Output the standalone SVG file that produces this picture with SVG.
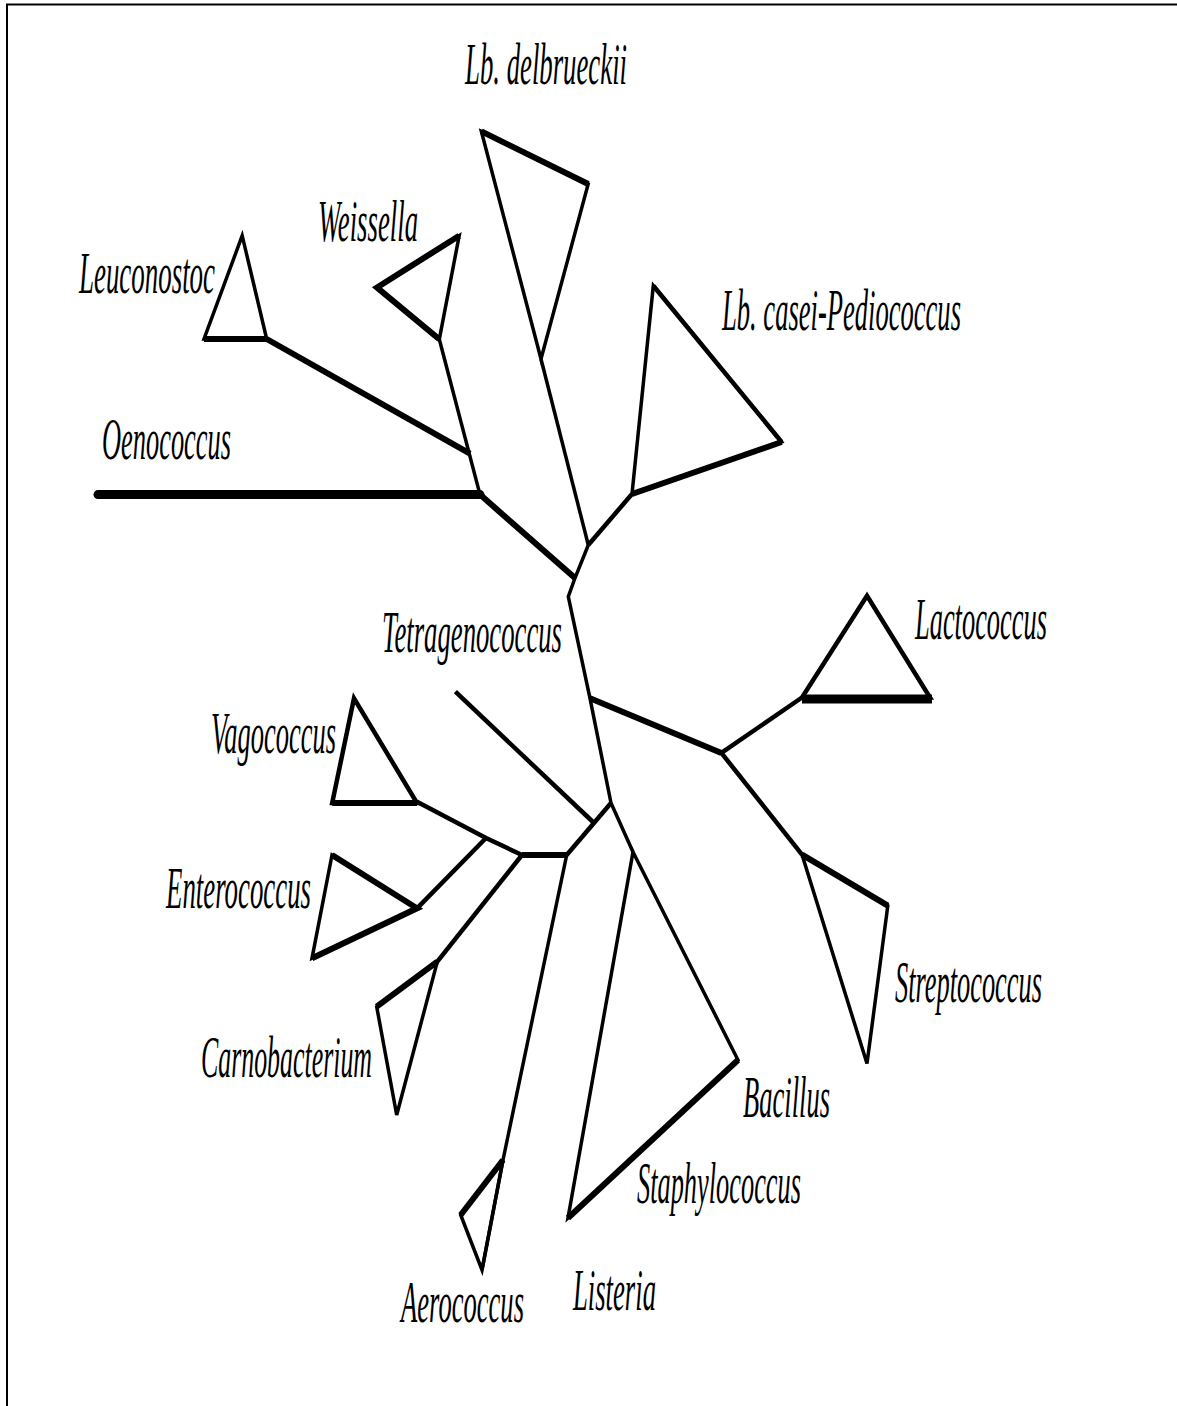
<svg xmlns="http://www.w3.org/2000/svg" width="1177" height="1406" viewBox="0 0 1177 1406">
<style>
.t{font-family:"Liberation Serif","Times New Roman",serif;font-style:italic;font-size:60px;fill:#000}
.thin{fill:none;stroke:#000;stroke-width:3.5;stroke-linejoin:miter}
.med{fill:none;stroke:#000;stroke-width:4.5;stroke-linejoin:miter}
.thick{fill:none;stroke:#000;stroke-width:6;stroke-linejoin:miter}
.xthick{fill:none;stroke:#000;stroke-width:9}
</style>
<rect width="1177" height="1406" fill="#fff"/>
<path d="M7,1406 V4.5 H1177" fill="none" stroke="#000" stroke-width="2"/>

<g id="connectors">
  <path class="thick" d="M480,494.6 L575,578"/>
  <path class="thin" d="M480,494.6 L439.3,339.3"/>
  <path class="thick" d="M470,453.6 L266.7,339"/>
  <path class="thin" d="M541,359 L588.3,545"/>
  <path class="med" d="M588.3,545 L632,494"/>
  <path class="thin" d="M588.3,545 L575,578 L568.3,596.7 L590,698.3 L611,803"/>
  <path class="thick" d="M590,698.3 L721.4,752.9"/>
  <path class="med" d="M721.4,752.9 L802,697.5"/>
  <path class="med" d="M721.4,752.9 L802,854.6"/>
  <path class="thin" d="M611,803 L633,852"/>
  <path class="med" d="M611,803 L566.7,855"/>
  <path class="thick" d="M566.7,855 L522,855"/>
  <path class="thin" d="M566.7,855 L503,1160"/>
  <path class="med" d="M522,855 L486,838 L417,801.7"/>
  <path class="med" d="M486,838 L417,908.3"/>
  <path class="med" d="M522,855 L437.3,961.7"/>
</g>

<g id="node-lb-delbrueckii">
  <polygon class="thin" points="481.4,131.4 588.2,184 541,359"/>
  <path class="thick" d="M481.4,131.4 L588.2,184"/>
  <text class="t" transform="translate(465,84) scale(0.5,1)" textLength="324" lengthAdjust="spacingAndGlyphs">Lb. delbrueckii</text>
</g>

<g id="node-weissella">
  <polygon class="thin" points="439.3,339.3 459.2,235.7 377,287.5"/>
  <path class="thick" d="M459.2,235.7 L377,287.5 L439.3,339.3"/>
  <text class="t" transform="translate(318,241) scale(0.5,1)" textLength="200" lengthAdjust="spacingAndGlyphs">Weissella</text>
</g>

<g id="node-leuconostoc">
  <polygon class="thin" points="242.2,235.7 204,339 266.7,339"/>
  <path class="thick" d="M204,339 L266.7,339"/>
  <text class="t" transform="translate(79,293) scale(0.5,1)" textLength="272" lengthAdjust="spacingAndGlyphs">Leuconostoc</text>
</g>

<g id="node-oenococcus">
  <path class="xthick" d="M98,494.6 L480,494.6" stroke-linecap="round"/>
  <text class="t" transform="translate(102,459) scale(0.5,1)" textLength="258" lengthAdjust="spacingAndGlyphs">Oenococcus</text>
</g>

<g id="node-lb-casei-pediococcus">
  <polygon class="thin" points="653.3,285.7 781.6,442 632,494"/>
  <path class="med" d="M653.3,285.7 L781.6,442"/>
  <path class="thick" d="M781.6,442 L632,494"/>
  <text class="t" transform="translate(722,330) scale(0.5,1)" textLength="478" lengthAdjust="spacingAndGlyphs">Lb. casei-Pediococcus</text>
</g>

<g id="node-tetragenococcus">
  <path class="med" d="M455.4,691.7 L593,822"/>
  <text class="t" transform="translate(382,652) scale(0.5,1)" textLength="360" lengthAdjust="spacingAndGlyphs">Tetragenococcus</text>
</g>

<g id="node-lactococcus">
  <polygon class="med" points="867,595.7 802,697.5 930,697.5"/>
  <path class="xthick" d="M802,699 L932,699"/>
  <text class="t" transform="translate(915,639) scale(0.5,1)" textLength="264" lengthAdjust="spacingAndGlyphs">Lactococcus</text>
</g>

<g id="node-vagococcus">
  <polygon class="med" points="354,698.3 332.2,803 417,803"/>
  <path class="thick" d="M332.2,803 L417,803"/>
  <text class="t" transform="translate(211,753) scale(0.5,1)" textLength="250" lengthAdjust="spacingAndGlyphs">Vagococcus</text>
</g>

<g id="node-enterococcus">
  <polygon class="thin" points="332,855 417,908.3 312,958.3"/>
  <path class="thick" d="M332,855 L417,908.3 L312,958.3"/>
  <text class="t" transform="translate(166,908) scale(0.5,1)" textLength="290" lengthAdjust="spacingAndGlyphs">Enterococcus</text>
</g>

<g id="node-carnobacterium">
  <polygon class="thin" points="437.3,961.7 376.7,1006.7 396.7,1115"/>
  <path class="thick" d="M437.3,961.7 L376.7,1006.7"/>
  <text class="t" transform="translate(201,1077) scale(0.5,1)" textLength="342" lengthAdjust="spacingAndGlyphs">Carnobacterium</text>
</g>

<g id="node-streptococcus">
  <polygon class="thin" points="802,854.6 887.8,905.7 867,1063.6"/>
  <path class="thick" d="M802,854.6 L887.8,905.7"/>
  <text class="t" transform="translate(895,1002) scale(0.5,1)" textLength="294" lengthAdjust="spacingAndGlyphs">Streptococcus</text>
</g>

<g id="node-bacillus-staphylococcus-listeria">
  <polygon class="thin" points="633,852 738,1060 568,1218"/>
  <path class="thick" d="M738,1060 L568,1218"/>
  <text class="t" transform="translate(743,1117) scale(0.5,1)" textLength="174" lengthAdjust="spacingAndGlyphs">Bacillus</text>
  <text class="t" transform="translate(637,1203) scale(0.5,1)" textLength="328" lengthAdjust="spacingAndGlyphs">Staphylococcus</text>
  <text class="t" transform="translate(573,1310) scale(0.5,1)" textLength="166" lengthAdjust="spacingAndGlyphs">Listeria</text>
</g>

<g id="node-aerococcus">
  <polygon class="thin" points="503,1160 460.7,1215 482,1270"/>
  <path class="thin" d="M503,1160 L482,1270"/>
  <path class="thick" d="M503,1160 L460.7,1215"/>
  <text class="t" transform="translate(401,1322) scale(0.5,1)" textLength="246" lengthAdjust="spacingAndGlyphs">Aerococcus</text>
</g>
</svg>
